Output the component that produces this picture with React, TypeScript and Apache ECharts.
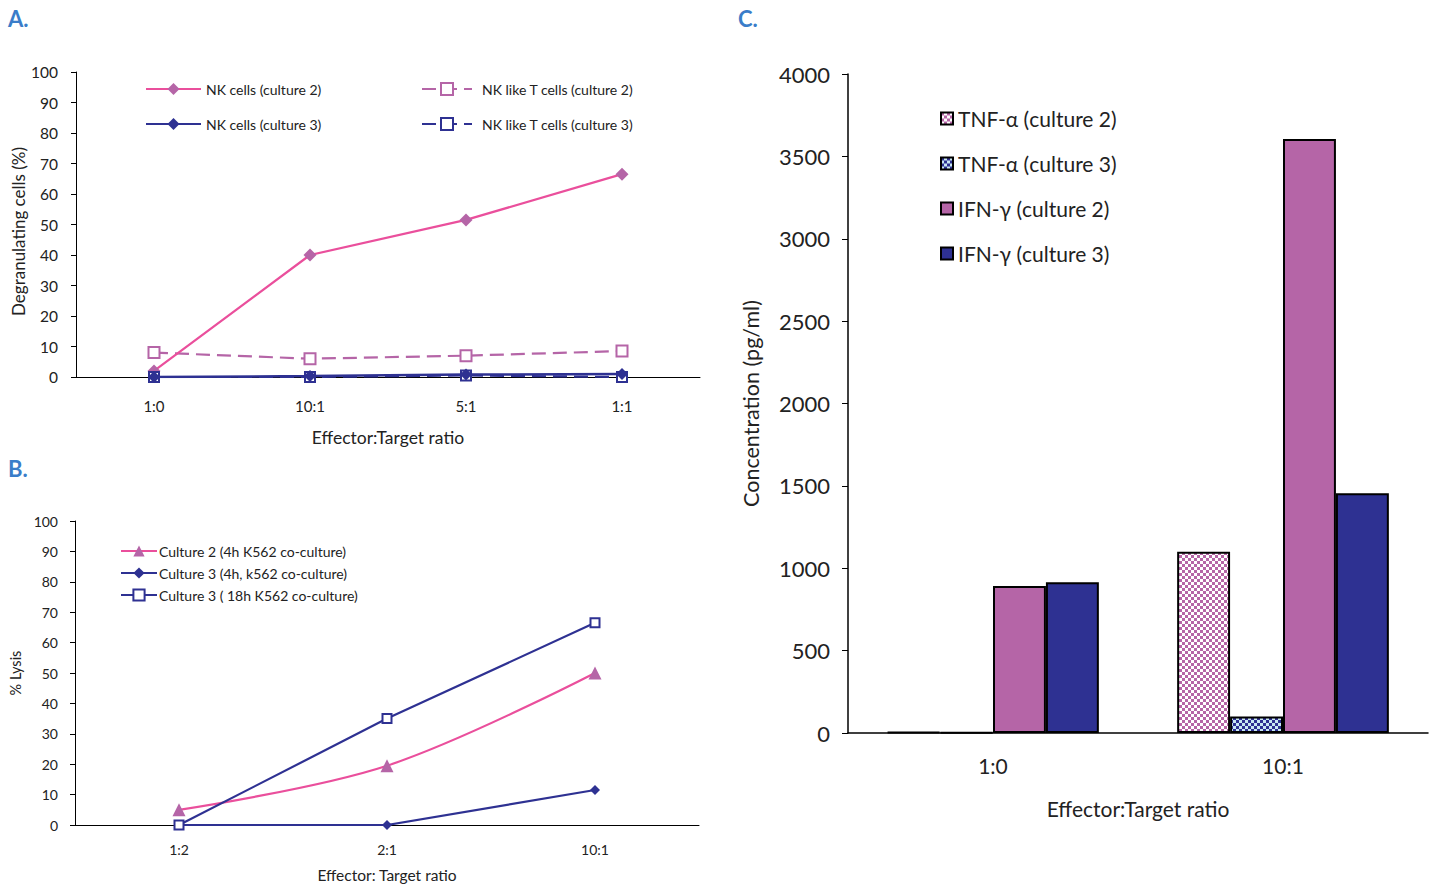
import React, { useEffect, useRef } from "react";
import * as echarts from "echarts";

// Panel A: degranulation
const catA = ["1:0", "10:1", "5:1", "1:1"];
const nkC2 = [2, 40, 51.5, 66.5];
const nktC2 = [8, 6, 7, 8.5];
const nkC3 = [0, 0.3, 0.8, 1];
const nktC3 = [0, 0, 0.5, 0];

// Panel B: lysis
const catB = ["1:2", "2:1", "10:1"];
const lysC2h4 = [5, 19.5, 50];
const lysC3h4 = [0, 0, 11.5];
const lysC3h18 = [0, 35, 66.5];

// Panel C: cytokines
const catC = ["1:0", "10:1"];
const tnfC2 = [5, 1100];
const tnfC3 = [3, 100];
const ifnC2 = [892, 3605];
const ifnC3 = [915, 1455];

const PINK = "#ea4f9c";
const PURPLE = "#b565a7";
const NAVY = "#2e3192";
const BLUE = "#3a7dc9";
const TXT = "#222";
const FONT = "Lato";

function checker(c1: string, c2: string, s = 3) {
  const cv = document.createElement("canvas");
  cv.width = 2 * s;
  cv.height = 2 * s;
  const ctx = cv.getContext("2d")!;
  ctx.fillStyle = c2;
  ctx.fillRect(0, 0, 2 * s, 2 * s);
  ctx.fillStyle = c1;
  ctx.fillRect(0, 0, s, s);
  ctx.fillRect(s, s, s, s);
  return { image: cv, repeat: "repeat" } as any;
}

export default function App() {
  const ref = useRef<HTMLDivElement>(null);
  useEffect(() => {
    if (!ref.current) return;
    const chart = echarts.init(ref.current, undefined, { renderer: "svg" });
    const axLine = { lineStyle: { color: "#000", width: 1 } };
    const option: any = {
      animation: false,
      textStyle: { fontFamily: FONT, color: TXT },
      graphic: [
        { type: "text", left: 8, top: 7, style: { text: "A.", fill: BLUE, font: `bold 22px ${FONT}` } },
        { type: "text", left: 8, top: 457, style: { text: "B.", fill: BLUE, font: `bold 22px ${FONT}` } },
        { type: "text", left: 738, top: 7, style: { text: "C.", fill: BLUE, font: `bold 22px ${FONT}` } },
      ],
      grid: [
        { left: 76, top: 72, width: 624, height: 305 },
        { left: 75, top: 521, width: 624, height: 304 },
        { left: 848, top: 74, width: 580, height: 659 },
      ],
      xAxis: [
        {
          type: "category", gridIndex: 0, data: catA, boundaryGap: true,
          axisLine: axLine, axisTick: { length: 5, lineStyle: { color: "#000" } },
          axisLabel: { color: TXT, fontSize: 15, margin: 21 },
          name: "Effector:Target ratio", nameLocation: "middle", nameGap: 51,
          nameTextStyle: { fontSize: 17.5, color: TXT },
        },
        {
          type: "category", gridIndex: 1, data: catB, boundaryGap: true,
          axisLine: axLine, axisTick: { length: 5, lineStyle: { color: "#000" } },
          axisLabel: { color: TXT, fontSize: 14, margin: 17 },
          name: "Effector: Target ratio", nameLocation: "middle", nameGap: 42,
          nameTextStyle: { fontSize: 15.5, color: TXT },
        },
        {
          type: "category", gridIndex: 2, data: catC, boundaryGap: true,
          axisLine: { lineStyle: { color: "#000", width: 1.5 } },
          axisTick: { length: 6, lineStyle: { color: "#000" } },
          axisLabel: { color: TXT, fontSize: 21, margin: 22 },
          name: "Effector:Target ratio", nameLocation: "middle", nameGap: 65,
          nameTextStyle: { fontSize: 21, color: TXT },
        },
      ],
      yAxis: [
        {
          type: "value", gridIndex: 0, min: 0, max: 100, interval: 10,
          splitLine: { show: false }, axisLine: { show: true, ...axLine },
          axisTick: { show: true, length: 5, lineStyle: { color: "#000" } },
          axisLabel: { color: TXT, fontSize: 15.5, margin: 18 },
          name: "Degranulating cells (%)", nameLocation: "middle", nameGap: 48, nameRotate: 90,
          nameTextStyle: { fontSize: 17, color: TXT, padding: [0, 14, 0, 0] },
        },
        {
          type: "value", gridIndex: 1, min: 0, max: 100, interval: 10,
          splitLine: { show: false }, axisLine: { show: true, ...axLine },
          axisTick: { show: true, length: 5, lineStyle: { color: "#000" } },
          axisLabel: { color: TXT, fontSize: 14, margin: 17 },
          name: "% Lysis", nameLocation: "middle", nameGap: 52, nameRotate: 90,
          nameTextStyle: { fontSize: 14.5, color: TXT },
        },
        {
          type: "value", gridIndex: 2, min: 0, max: 4000, interval: 500,
          splitLine: { show: false }, axisLine: { show: true, lineStyle: { color: "#000", width: 1.5 } },
          axisTick: { show: true, length: 6, lineStyle: { color: "#000" } },
          axisLabel: { color: TXT, fontSize: 22, margin: 18, formatter: (v: number) => String(v) },
          name: "Concentration (pg/ml)", nameLocation: "middle", nameGap: 86, nameRotate: 90,
          nameTextStyle: { fontSize: 21.5, color: TXT },
        },
      ],
      legend: [
        {
          orient: "vertical", left: 140, top: 77, itemGap: 21, itemWidth: 55, itemHeight: 15,
          data: ["NK cells (culture 2)", "NK cells (culture 3)"],
          textStyle: { fontSize: 14, color: TXT },
        },
        {
          orient: "vertical", left: 416, top: 77, itemGap: 21, itemWidth: 50, itemHeight: 15,
          data: ["NK like T cells (culture 2)", "NK like T cells (culture 3)"],
          textStyle: { fontSize: 14, color: TXT, padding: [0, 0, 0, 5] },
        },
        {
          orient: "vertical", left: 115, top: 539, itemGap: 8, itemWidth: 36, itemHeight: 14,
          data: ["Culture 2 (4h K562 co-culture)", "Culture 3 (4h, k562 co-culture)", "Culture 3 ( 18h K562 co-culture)"],
          textStyle: { fontSize: 14, color: TXT, padding: [0, 0, 0, -3] },
        },
        {
          orient: "vertical", left: 935, top: 103, itemGap: 24, itemWidth: 12, itemHeight: 12,
          icon: "rect",
          itemStyle: { borderColor: "#000", borderWidth: 2 },
          data: ["TNF-α (culture 2)", "TNF-α (culture 3)", "IFN-γ (culture 2)", "IFN-γ (culture 3)"],
          textStyle: { fontSize: 21, color: TXT },
        },
      ],
      series: [
        {
          name: "NK like T cells (culture 2)", type: "line", xAxisIndex: 0, yAxisIndex: 0, data: nktC2,
          symbol: "emptyRect", symbolSize: 11,
          lineStyle: { color: PURPLE, width: 2.2, type: [14, 7] },
          itemStyle: { color: PURPLE, borderWidth: 2 },
        },
        {
          name: "NK cells (culture 2)", type: "line", xAxisIndex: 0, yAxisIndex: 0, data: nkC2,
          symbol: "diamond", symbolSize: 13,
          lineStyle: { color: PINK, width: 2.2 },
          itemStyle: { color: PURPLE },
        },
        {
          name: "NK like T cells (culture 3)", type: "line", xAxisIndex: 0, yAxisIndex: 0, data: nktC3,
          symbol: "emptyRect", symbolSize: 10,
          lineStyle: { color: NAVY, width: 2.2, type: [14, 7] },
          itemStyle: { color: NAVY, borderWidth: 2 },
        },
        {
          name: "NK cells (culture 3)", type: "line", xAxisIndex: 0, yAxisIndex: 0, data: nkC3,
          symbol: "diamond", symbolSize: 12,
          lineStyle: { color: NAVY, width: 2.5 },
          itemStyle: { color: NAVY },
        },
        {
          name: "Culture 2 (4h K562 co-culture)", type: "line", xAxisIndex: 1, yAxisIndex: 1, data: lysC2h4,
          symbol: "triangle", symbolSize: 13, smooth: 0.35,
          lineStyle: { color: PINK, width: 2.2 },
          itemStyle: { color: PURPLE },
        },
        {
          name: "Culture 3 (4h, k562 co-culture)", type: "line", xAxisIndex: 1, yAxisIndex: 1, data: lysC3h4,
          symbol: "diamond", symbolSize: 10,
          lineStyle: { color: NAVY, width: 2.2 },
          itemStyle: { color: NAVY },
        },
        {
          name: "Culture 3 ( 18h K562 co-culture)", type: "line", xAxisIndex: 1, yAxisIndex: 1, data: lysC3h18,
          symbol: "emptyRect", symbolSize: 9,
          lineStyle: { color: NAVY, width: 2.2 },
          itemStyle: { color: NAVY, borderWidth: 2 },
        },
        {
          name: "TNF-α (culture 2)", type: "bar", xAxisIndex: 2, yAxisIndex: 2, data: tnfC2,
          barGap: "0%", barCategoryGap: "27%",
          itemStyle: { color: checker(PURPLE, "#ffffff"), borderColor: "#000", borderWidth: 2 },
        },
        {
          name: "TNF-α (culture 3)", type: "bar", xAxisIndex: 2, yAxisIndex: 2, data: tnfC3,
          barGap: "0%", barCategoryGap: "27%",
          itemStyle: { color: checker(NAVY, "#c8e8f3"), borderColor: "#000", borderWidth: 2 },
        },
        {
          name: "IFN-γ (culture 2)", type: "bar", xAxisIndex: 2, yAxisIndex: 2, data: ifnC2,
          barGap: "0%", barCategoryGap: "27%",
          itemStyle: { color: PURPLE, borderColor: "#000", borderWidth: 2 },
        },
        {
          name: "IFN-γ (culture 3)", type: "bar", xAxisIndex: 2, yAxisIndex: 2, data: ifnC3,
          barGap: "0%", barCategoryGap: "27%",
          itemStyle: { color: NAVY, borderColor: "#000", borderWidth: 2 },
        },
      ],
    };
    chart.setOption(option);
    return () => chart.dispose();
  }, []);
  return (
    <div
      ref={ref}
      style={{ position: "absolute", left: 0, top: 0, width: 1440, height: 886, background: "#fff" }}
    />
  );
}
